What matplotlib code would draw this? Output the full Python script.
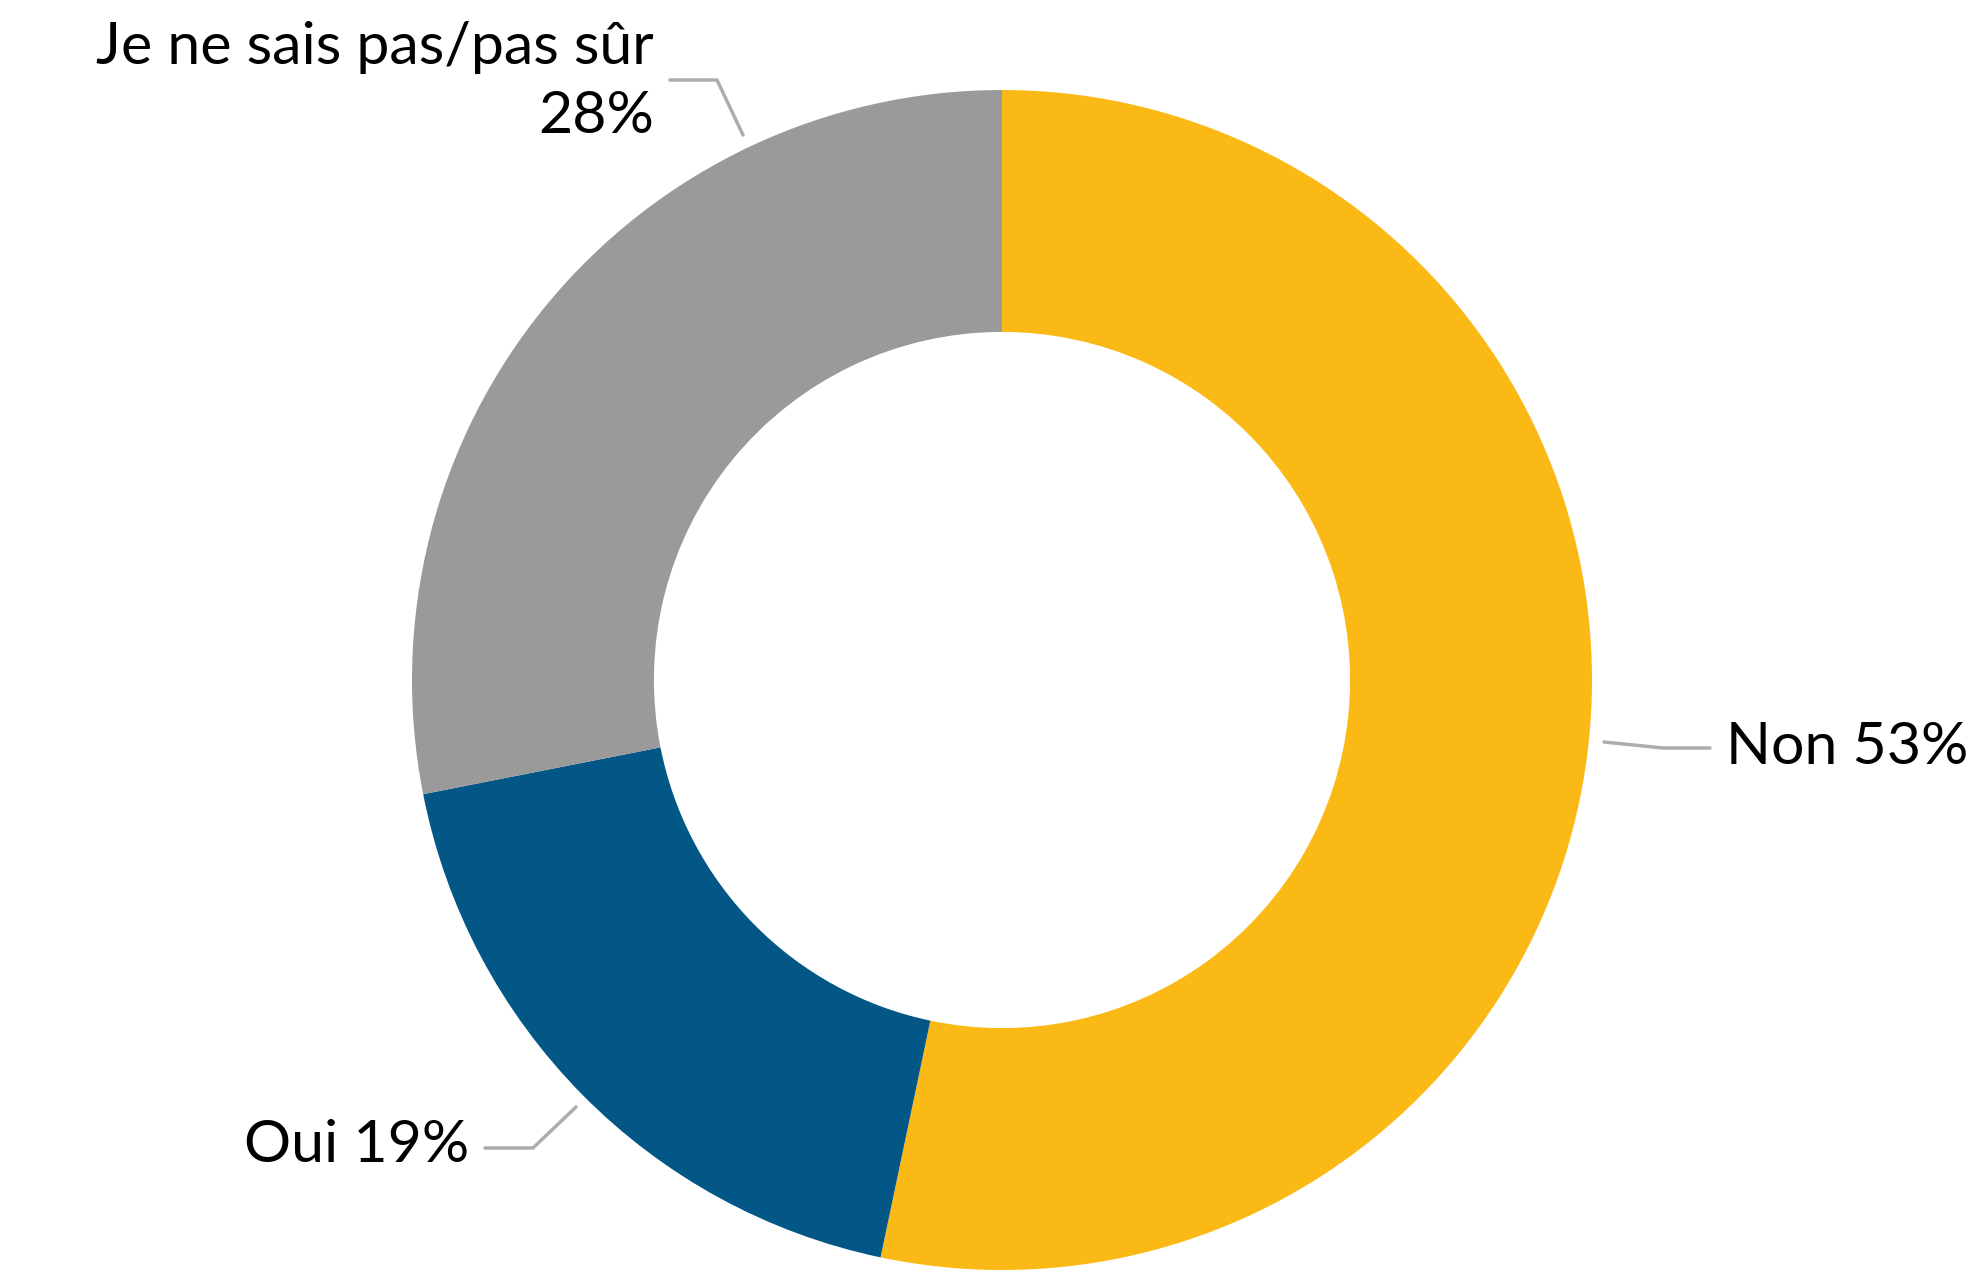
import numpy as np
import matplotlib
matplotlib.use("Agg")
import matplotlib.pyplot as plt

labels = ["Non", "Oui", "Je ne sais pas/pas sûr"]
values = [53.3, 18.6, 28.1]
colors = ["#FBB915", "#035787", "#9A9A9A"]

plt.rcParams['font.family'] = ['Lato', 'DejaVu Sans']

W, H = 1972, 1273
fig = plt.figure(figsize=(W / 100, H / 100), dpi=100)
ax = fig.add_axes([0, 0, 1, 1])

cx, cy, r = 1002, 593, 590
wedges, _ = ax.pie(values, colors=colors, startangle=90, counterclock=False,
                   center=(cx, cy), radius=r,
                   wedgeprops=dict(width=r * 0.41, linewidth=0))
ax.set_xlim(0, W)
ax.set_ylim(0, H)
ax.set_aspect('equal')
ax.axis('off')

line_kw = dict(color="#ADADAD", lw=2.5, solid_capstyle='round')
fs = 42.5

# Non
ax.plot([1604, 1663, 1710], [H - 742, H - 748, H - 748], **line_kw)
ax.text(1726, H - 748, f"{labels[0]} {values[0]:.0f}%", fontsize=fs, va='center', ha='left')

# Oui
ax.plot([485, 533, 576], [H - 1148, H - 1148, H - 1107], **line_kw)
ax.text(469, H - 1146, f"{labels[1]} {values[1]:.0f}%", fontsize=fs, va='center', ha='right')

# Je ne sais pas
ax.plot([670, 717, 743], [H - 80, H - 80, H - 135], **line_kw)
ax.text(654, H - 82, f"{labels[2]}\n{values[2]:.0f}%", fontsize=fs, va='center', ha='right',
        multialignment='right', linespacing=1.35)

fig.savefig("out.png", dpi=100)
